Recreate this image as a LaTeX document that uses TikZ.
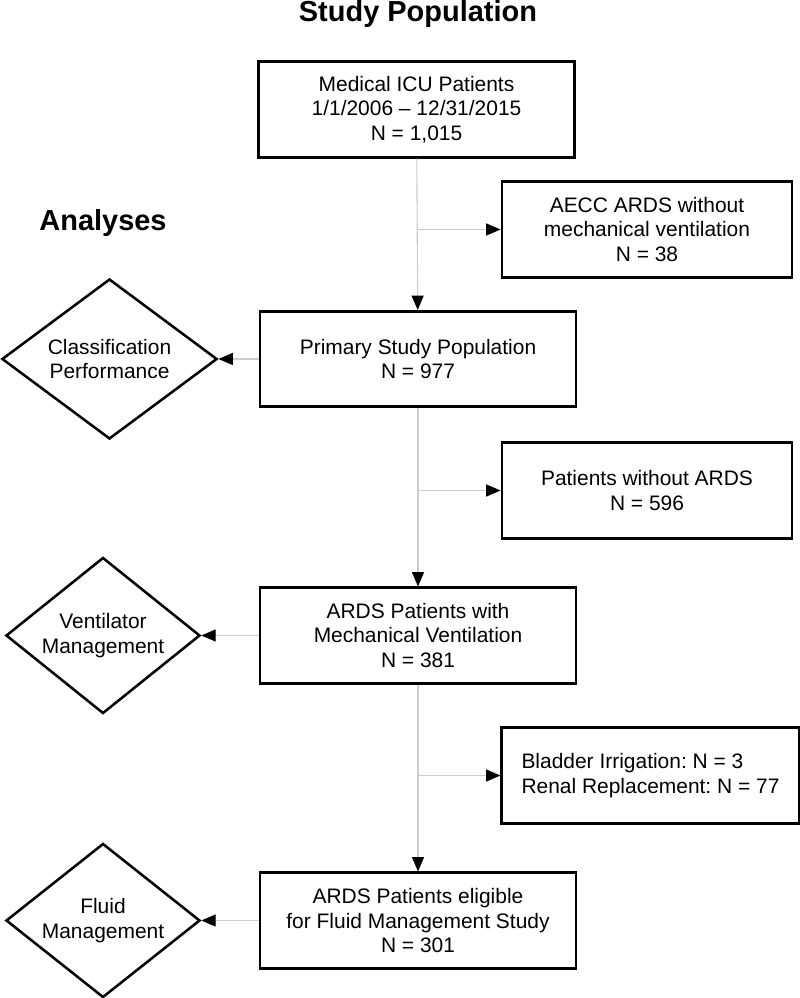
\documentclass[tikz,border=0pt]{standalone}
\usepackage{fontspec}
\setmainfont{Liberation Sans}
\usetikzlibrary{shapes.geometric,arrows.meta}
\frenchspacing

\tikzset{
    bodytext/.style={font=\fontsize{14.9}{17.3}\selectfont},
    popbox/.style={draw, line width=2pt, bodytext, align=center,
        minimum width=7.9cm, minimum height=2.38cm, inner sep=0pt},
    sidebox/.style={popbox, minimum width=7.25cm},
    analysis/.style={draw, diamond, line width=1.8pt, bodytext, align=center,
        inner sep=0pt, shape aspect=1.3},
    flow/.style={draw=black!20, line width=0.8pt,
        -{Triangle[length=0.36cm,width=0.3cm,black]}},
    heading/.style={font=\bfseries\fontsize{20.6}{24}\selectfont, anchor=base}
}

\begin{document}
\begin{tikzpicture}[x=0.025cm, y=-0.025cm]
    \useasboundingbox (0, 0) rectangle (800, 998);

        %%headings
        \node[heading] (title) at (418, 22){Study Population};
        \node[heading] (analyses) at (103, 230){Analyses};

        %%population boxes
        \node[popbox] (icu) at (416.5, 109.5){Medical ICU Patients\\1/1/2006 – 12/31/2015\\N = 1,015};
        \node[popbox] (primary) at (418, 359){Primary Study Population\\N = 977};
        \node[popbox] (mv) at (418, 635.5){ARDS Patients with\\Mechanical Ventilation\\N = 381};
        \node[popbox] (fluid) at (418, 920.5){ARDS Patients eligible\\for Fluid Management Study\\N = 301};

        %%exclusions
        \node[sidebox] (aecc) at (647, 229.5){AECC ARDS without\\mechanical ventilation\\N = 38};
        \node[sidebox] (noards) at (647, 490.5){Patients without ARDS\\N = 596};
        \node[sidebox, minimum width=7.43cm, align=left] (renal) at (650.5, 775.5){Bladder Irrigation: N = 3\\Renal Replacement: N = 77};

        %%analyses
        \node[analysis, minimum width=5.38cm, minimum height=4cm] (classif) at (109.5, 359){Classification\\Performance};
        \node[analysis, minimum width=4.85cm, minimum height=3.9cm] (vent) at (103, 635.5){Ventilator\\Management};
        \node[analysis, minimum width=4.85cm, minimum height=3.85cm] (fluidm) at (103, 920.5){Fluid\\Management};

        %%main flow
        \draw[flow] (icu) to (primary);
        \draw[flow] (primary) to (mv);
        \draw[flow] (mv) to (fluid);

        %%branches
        \coordinate (b1) at (icu.south |- aecc.west);
        \coordinate (b2) at (primary.south |- noards.west);
        \coordinate (b3) at (mv.south |- renal.west);
        \draw[flow] (b1) to (aecc.west);
        \draw[flow] (b2) to (noards.west);
        \draw[flow] (b3) to (renal.west);

        %%to the analyses
        \draw[flow] (primary.west) to (classif.east);
        \draw[flow] (mv.west) to (vent.east);
        \draw[flow] (fluid.west) to (fluidm.east);
\end{tikzpicture}
\end{document}
